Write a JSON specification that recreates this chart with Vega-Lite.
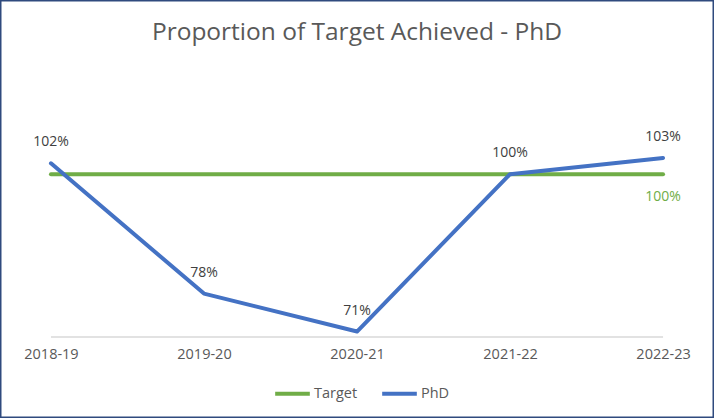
{
  "$schema": "https://vega.github.io/schema/vega-lite/v6.json",
  "width": 714,
  "height": 418,
  "padding": 0,
  "autosize": {"type": "none"},
  "background": "white",
  "config": {
    "view": {"stroke": "#2F4A7E", "strokeWidth": 3},
    "font": "Open Sans"
  },
  "title": {
    "text": "Proportion of Target Achieved - PhD",
    "orient": "top",
    "anchor": "middle",
    "offset": -64,
    "baseline": "alphabetic",
    "fontSize": 24.5,
    "fontWeight": "normal",
    "font": "Open Sans",
    "color": "#595959"
  },
  "data": {
    "values": [
      {"year": "2018-19", "series": "Target", "value": 1.00},
      {"year": "2019-20", "series": "Target", "value": 1.00},
      {"year": "2020-21", "series": "Target", "value": 1.00},
      {"year": "2021-22", "series": "Target", "value": 1.00},
      {"year": "2022-23", "series": "Target", "value": 1.00},
      {"year": "2018-19", "series": "PhD", "value": 1.02},
      {"year": "2019-20", "series": "PhD", "value": 0.78},
      {"year": "2020-21", "series": "PhD", "value": 0.71},
      {"year": "2021-22", "series": "PhD", "value": 1.00},
      {"year": "2022-23", "series": "PhD", "value": 1.03}
    ]
  },
  "encoding": {
    "x": {
      "field": "year",
      "type": "ordinal",
      "scale": {"type": "point", "padding": 0.333},
      "axis": {
        "title": null,
        "labelAngle": 0,
        "domain": false,
        "ticks": false,
        "grid": false,
        "offset": -81,
        "labelPadding": 10,
        "labelFontSize": 14.5,
        "labelColor": "#595959",
        "labelFont": "Open Sans"
      }
    },
    "y": {
      "field": "value",
      "type": "quantitative",
      "scale": {"domain": [0.5507, 1.321], "nice": false, "zero": false},
      "axis": null
    }
  },
  "layer": [
    {
      "data": {"values": [{"start": "2018-19", "end": "2022-23", "base": 0.70}]},
      "mark": {"type": "rule", "color": "#D9D9D9", "strokeWidth": 1.5},
      "encoding": {
        "x": {"field": "start", "type": "ordinal"},
        "x2": {"field": "end"},
        "y": {"field": "base", "type": "quantitative"}
      }
    },
    {
      "mark": {"type": "line", "strokeWidth": 4, "strokeCap": "round", "strokeJoin": "round"},
      "encoding": {
        "color": {
          "field": "series",
          "type": "nominal",
          "sort": ["Target", "PhD"],
          "scale": {"domain": ["Target", "PhD"], "range": ["#70AD47", "#4472C4"]},
          "legend": {
            "title": null,
            "orient": "none",
            "direction": "horizontal",
            "legendX": 273,
            "legendY": 374,
            "symbolType": "stroke",
            "symbolStrokeWidth": 4,
            "symbolSize": 1200,
            "labelFontSize": 14.5,
            "labelColor": "#595959",
            "labelFont": "Open Sans",
            "labelOffset": 2,
            "columnPadding": 16
          }
        },
        "order": {"field": "year"}
      }
    },
    {
      "transform": [{"filter": "datum.series == 'PhD'"}],
      "mark": {"type": "text", "dy": -21, "baseline": "middle", "fontSize": 14, "color": "#404040", "font": "Open Sans"},
      "encoding": {"text": {"field": "value", "type": "quantitative", "format": ".0%"}}
    },
    {
      "transform": [{"filter": "datum.series == 'Target' && datum.year == '2022-23'"}],
      "mark": {"type": "text", "dy": 23, "baseline": "middle", "fontSize": 14, "color": "#70AD47", "font": "Open Sans"},
      "encoding": {"text": {"field": "value", "type": "quantitative", "format": ".0%"}}
    }
  ]
}
